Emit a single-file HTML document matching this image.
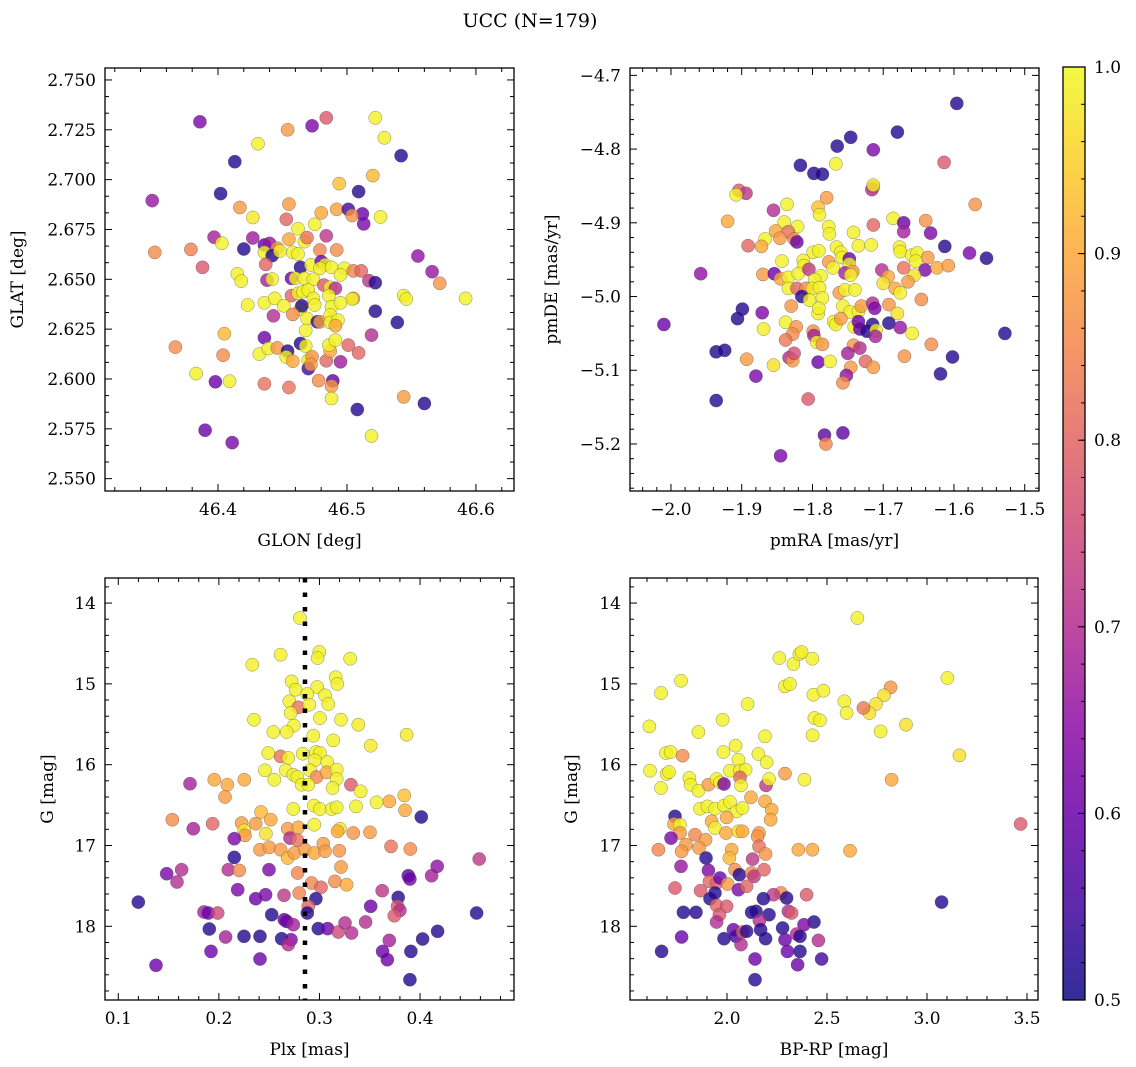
<!DOCTYPE html>
<html><head><meta charset="utf-8"><title>UCC (N=179)</title>
<style>
html,body{margin:0;padding:0;background:#fff;}
svg{display:block;font-family:"DejaVu Serif","Liberation Serif",serif;}
</style></head>
<body>
<svg id="fig" width="1136" height="1067" viewBox="0 0 1136 1067" xmlns="http://www.w3.org/2000/svg">
<defs>
<linearGradient id="plasma" x1="0" y1="1" x2="0" y2="0">
<stop offset="0" stop-color="#0d0887"/><stop offset="0.1" stop-color="#41049d"/><stop offset="0.2" stop-color="#6a00a8"/><stop offset="0.3" stop-color="#8f0da4"/><stop offset="0.4" stop-color="#b12a90"/><stop offset="0.5" stop-color="#cc4778"/><stop offset="0.6" stop-color="#e16462"/><stop offset="0.7" stop-color="#f2844b"/><stop offset="0.8" stop-color="#fca636"/><stop offset="0.9" stop-color="#fcce25"/><stop offset="1" stop-color="#f0f921"/>
</linearGradient>
</defs>
<text x="530" y="27" font-size="19" text-anchor="middle">UCC (N=179)</text>
<g id="root"></g>
</svg>
<script>
// ---- Panel 1: GLON vs GLAT ----
const glon=[46.386,46.473,46.484,46.454,46.522,46.529,46.431,46.413,46.542,46.520,46.494,46.509,46.402,46.349,46.417,46.455,46.427,46.480,46.492,46.501,46.512,46.504,46.513,46.526,46.453,46.462,46.475,46.397,46.403,46.427,46.351,46.379,46.388,46.420,46.436,46.440,46.446,46.436,46.442,46.448,46.455,46.467,46.469,46.484,46.458,46.462,46.479,46.492,46.437,46.464,46.472,46.480,46.483,46.479,46.488,46.498,46.505,46.511,46.495,46.555,46.566,46.572,46.592,46.415,46.418,46.438,46.442,46.457,46.460,46.467,46.474,46.482,46.487,46.491,46.517,46.522,46.457,46.462,46.466,46.470,46.474,46.486,46.505,46.504,46.544,46.546,46.423,46.436,46.444,46.451,46.464,46.465,46.475,46.488,46.495,46.443,46.458,46.469,46.477,46.479,46.487,46.487,46.493,46.491,46.468,46.522,46.539,46.519,46.436,46.405,46.367,46.404,46.432,46.439,46.446,46.464,46.468,46.454,46.453,46.458,46.470,46.473,46.470,46.472,46.484,46.487,46.486,46.491,46.495,46.501,46.509,46.383,46.398,46.409,46.436,46.455,46.478,46.489,46.488,46.488,46.544,46.560,46.508,46.390,46.411,46.519];
const glat=[2.729,2.727,2.731,2.725,2.731,2.721,2.718,2.709,2.712,2.702,2.698,2.694,2.693,2.6895,2.686,2.6877,2.681,2.6833,2.6851,2.6851,2.6828,2.682,2.6778,2.6813,2.6801,2.6754,2.6776,2.6711,2.6681,2.6707,2.6635,2.665,2.656,2.6652,2.6672,2.668,2.6656,2.6635,2.6619,2.6642,2.6701,2.6689,2.6709,2.6718,2.6635,2.6627,2.6647,2.6647,2.6575,2.656,2.6572,2.6589,2.6572,2.6555,2.656,2.6555,2.6542,2.6542,2.6522,2.6617,2.6538,2.648,2.6404,2.6527,2.6491,2.6496,2.6501,2.6505,2.6505,2.6505,2.650,2.6471,2.646,2.6455,2.6493,2.6483,2.6418,2.643,2.6438,2.6446,2.6404,2.6418,2.6404,2.6401,2.6418,2.6401,2.6371,2.6382,2.6404,2.6367,2.635,2.6367,2.6371,2.6362,2.6382,2.6317,2.6324,2.6304,2.6287,2.6287,2.6321,2.6284,2.6295,2.6267,2.6243,2.634,2.6284,2.622,2.6207,2.6227,2.616,2.6119,2.6125,2.6153,2.6156,2.6178,2.6165,2.614,2.611,2.6089,2.6094,2.6111,2.6052,2.6073,2.6091,2.614,2.617,2.6195,2.6086,2.617,2.6131,2.6027,2.5986,2.5989,2.5976,2.5957,2.5992,2.5991,2.5964,2.5902,2.591,2.5877,2.5847,2.5743,2.5681,2.5714];
const prob1=[0.62,0.62,0.78,0.88,0.99,0.99,0.99,0.52,0.52,0.92,0.93,0.52,0.52,0.66,0.88,0.88,0.98,0.9,0.89,0.55,0.6,0.87,0.62,0.99,0.8,0.99,0.99,0.68,0.99,0.67,0.86,0.84,0.78,0.52,0.58,0.66,0.86,0.99,0.52,0.99,0.9,0.99,0.82,0.72,0.99,0.99,0.85,0.86,0.8,0.52,0.99,0.6,0.99,0.99,0.99,0.99,0.85,0.8,0.99,0.65,0.66,0.87,0.99,0.99,0.99,0.68,0.99,0.6,0.99,0.99,0.99,0.78,0.99,0.7,0.72,0.52,0.8,0.99,0.99,0.99,0.99,0.99,0.88,0.99,0.99,0.99,0.99,0.99,0.99,0.99,0.99,0.52,0.99,0.99,0.99,0.7,0.86,0.99,0.52,0.88,0.99,0.99,0.99,0.9,0.99,0.52,0.52,0.7,0.6,0.92,0.86,0.86,0.99,0.99,0.87,0.52,0.99,0.52,0.99,0.9,0.99,0.87,0.55,0.88,0.8,0.9,0.99,0.99,0.67,0.8,0.8,0.99,0.6,0.99,0.82,0.82,0.86,0.58,0.88,0.99,0.88,0.52,0.52,0.6,0.62,0.99];

// ---- Panel 2: pmRA vs pmDE ----
const pmra=[-1.596,-1.680,-1.746,-1.765,-1.714,-1.614,-1.817,-1.767,-1.798,-1.786,-1.714,-1.716,-1.714,-1.904,-1.894,-1.908,-1.780,-1.570,-1.836,-1.855,-1.792,-1.790,-1.920,-1.840,-1.821,-1.852,-1.834,-1.777,-1.776,-1.714,-1.686,-1.671,-1.671,-1.640,-1.633,-1.742,-1.867,-1.846,-1.826,-1.822,-1.891,-1.872,-1.735,-1.717,-1.613,-1.578,-1.554,-1.766,-1.799,-1.791,-1.760,-1.677,-1.676,-1.660,-1.652,-1.637,-1.654,-1.843,-1.813,-1.812,-1.777,-1.758,-1.748,-1.748,-1.771,-1.958,-1.870,-1.854,-1.845,-1.834,-1.820,-1.805,-1.788,-1.797,-1.754,-1.743,-1.746,-1.702,-1.671,-1.641,-1.624,-1.608,-1.656,-1.693,-1.700,-1.665,-1.834,-1.822,-1.809,-1.800,-1.790,-1.815,-1.762,-1.754,-1.740,-1.683,-1.676,-1.646,-1.804,-1.786,-1.830,-1.757,-1.747,-1.735,-1.731,-1.715,-1.712,-1.692,-1.680,-1.899,-1.906,-1.871,-1.792,-1.791,-2.010,-1.869,-1.838,-1.823,-1.828,-1.838,-1.799,-1.798,-1.770,-1.767,-1.760,-1.741,-1.735,-1.733,-1.723,-1.715,-1.710,-1.711,-1.692,-1.676,-1.659,-1.794,-1.786,-1.742,-1.733,-1.750,-1.632,-1.936,-1.924,-1.893,-1.855,-1.833,-1.828,-1.826,-1.792,-1.775,-1.725,-1.714,-1.670,-1.602,-1.746,-1.752,-1.757,-1.880,-1.619,-1.528,-1.936,-1.806,-1.783,-1.781,-1.757,-1.845];
const pmde=[-4.738,-4.777,-4.784,-4.796,-4.801,-4.818,-4.822,-4.820,-4.833,-4.834,-4.851,-4.855,-4.849,-4.856,-4.860,-4.862,-4.866,-4.875,-4.875,-4.883,-4.879,-4.889,-4.898,-4.899,-4.905,-4.911,-4.912,-4.905,-4.915,-4.903,-4.894,-4.900,-4.912,-4.897,-4.914,-4.913,-4.922,-4.921,-4.922,-4.926,-4.931,-4.932,-4.931,-4.930,-4.932,-4.941,-4.948,-4.933,-4.940,-4.938,-4.940,-4.933,-4.939,-4.944,-4.941,-4.947,-4.952,-4.952,-4.951,-4.958,-4.953,-4.947,-4.949,-4.956,-4.961,-4.969,-4.970,-4.969,-4.976,-4.974,-4.969,-4.963,-4.972,-4.977,-4.968,-4.966,-4.971,-4.964,-4.961,-4.964,-4.961,-4.958,-4.971,-4.973,-4.982,-4.980,-4.989,-4.989,-4.989,-4.989,-4.988,-5.000,-4.995,-4.991,-4.991,-4.989,-4.995,-5.004,-5.005,-5.002,-5.013,-5.013,-5.021,-5.020,-5.013,-5.009,-5.016,-5.011,-5.023,-5.017,-5.030,-5.022,-5.023,-5.016,-5.038,-5.044,-5.035,-5.041,-5.051,-5.059,-5.047,-5.053,-5.034,-5.038,-5.030,-5.041,-5.034,-5.044,-5.047,-5.038,-5.046,-5.054,-5.036,-5.042,-5.050,-5.062,-5.065,-5.066,-5.070,-5.077,-5.065,-5.075,-5.073,-5.085,-5.093,-5.083,-5.087,-5.077,-5.089,-5.088,-5.088,-5.096,-5.081,-5.082,-5.096,-5.107,-5.117,-5.108,-5.105,-5.050,-5.141,-5.139,-5.188,-5.200,-5.185,-5.216];
const prob2=[0.52,0.52,0.52,0.52,0.62,0.78,0.52,0.99,0.52,0.52,0.85,0.7,0.99,0.78,0.72,0.99,0.88,0.87,0.99,0.7,0.93,0.99,0.9,0.99,0.99,0.9,0.82,0.99,0.99,0.8,0.99,0.6,0.68,0.87,0.62,0.99,0.99,0.88,0.85,0.6,0.8,0.9,0.99,0.99,0.52,0.62,0.52,0.99,0.99,0.99,0.99,0.99,0.99,0.99,0.99,0.88,0.99,0.99,0.99,0.99,0.88,0.99,0.6,0.99,0.99,0.65,0.88,0.6,0.9,0.99,0.99,0.72,0.99,0.99,0.68,0.87,0.99,0.7,0.82,0.62,0.9,0.88,0.97,0.9,0.97,0.88,0.99,0.8,0.86,0.99,0.99,0.52,0.88,0.99,0.99,0.9,0.99,0.86,0.99,0.99,0.87,0.99,0.99,0.99,0.88,0.7,0.62,0.87,0.97,0.52,0.52,0.62,0.99,0.99,0.6,0.99,0.99,0.87,0.86,0.83,0.86,0.68,0.99,0.99,0.88,0.99,0.6,0.6,0.52,0.52,0.99,0.68,0.52,0.66,0.99,0.99,0.87,0.87,0.7,0.68,0.86,0.52,0.52,0.88,0.97,0.7,0.88,0.76,0.6,0.99,0.8,0.88,0.87,0.52,0.88,0.65,0.86,0.62,0.52,0.52,0.52,0.78,0.58,0.85,0.58,0.62];

// ---- Panel 3: Plx vs G ----
const plx=[0.2806,0.2614,0.2998,0.2982,0.3306,0.2332,0.3161,0.3177,0.2723,0.2763,0.2978,0.2879,0.3055,0.3088,0.2700,0.2790,0.2899,0.2713,0.2349,0.3005,0.3214,0.3386,0.2746,0.2541,0.2674,0.2939,0.3137,0.3866,0.3509,0.2491,0.2614,0.2690,0.2833,0.2965,0.3005,0.2955,0.3078,0.2458,0.2551,0.2664,0.2740,0.2780,0.2906,0.2972,0.3071,0.3171,0.3171,0.3131,0.2823,0.2889,0.1713,0.1955,0.2084,0.2253,0.2061,0.3313,0.3409,0.3843,0.3850,0.3694,0.3568,0.3363,0.2740,0.2945,0.3005,0.3121,0.3171,0.4012,0.1537,0.1746,0.1938,0.2226,0.2366,0.2419,0.2515,0.2253,0.2259,0.2153,0.2468,0.2684,0.2790,0.2707,0.2783,0.2949,0.3204,0.3180,0.3336,0.3502,0.2409,0.2501,0.2614,0.2684,0.2750,0.2856,0.2949,0.3038,0.3055,0.3197,0.3711,0.3903,0.4588,0.2153,0.1481,0.1630,0.1584,0.2094,0.2203,0.2498,0.2783,0.2922,0.3015,0.3154,0.3214,0.3270,0.3883,0.3899,0.4115,0.4171,0.2187,0.2366,0.2465,0.2647,0.2799,0.2965,0.2889,0.2879,0.3624,0.3783,0.3777,0.3800,0.3744,0.3509,0.1199,0.1852,0.1895,0.1988,0.2525,0.2650,0.2674,0.2740,0.1905,0.2067,0.2250,0.2409,0.2624,0.2717,0.2690,0.2988,0.3081,0.3187,0.3254,0.3320,0.3459,0.1922,0.3694,0.3628,0.3674,0.3909,0.4025,0.4174,0.4562,0.1375,0.2409,0.3899];
const gmag3=[14.185,14.639,14.606,14.680,14.688,14.763,14.919,15.002,14.969,15.072,15.039,15.126,15.142,15.249,15.216,15.290,15.258,15.361,15.443,15.423,15.443,15.505,15.517,15.596,15.596,15.641,15.699,15.629,15.765,15.856,15.897,15.918,15.864,15.843,15.856,15.946,15.967,16.070,16.186,16.070,16.124,16.153,16.070,16.153,16.095,16.062,16.177,16.289,16.248,16.248,16.235,16.186,16.248,16.186,16.400,16.248,16.330,16.380,16.565,16.454,16.466,16.516,16.549,16.507,16.549,16.549,16.528,16.648,16.681,16.792,16.730,16.722,16.730,16.586,16.681,16.813,16.875,16.916,16.854,16.792,16.776,16.908,16.936,16.743,16.792,16.825,16.846,16.837,17.052,17.023,17.052,17.155,17.093,17.052,17.093,16.978,17.072,17.064,17.011,17.044,17.167,17.147,17.349,17.299,17.452,17.299,17.308,17.299,17.341,17.464,17.518,17.444,17.266,17.485,17.374,17.415,17.374,17.258,17.547,17.658,17.609,17.617,17.588,17.658,17.753,17.836,17.559,17.642,17.753,17.803,17.869,17.753,17.700,17.823,17.836,17.836,17.856,17.918,17.939,17.980,18.034,18.133,18.124,18.124,18.153,18.166,18.227,18.029,18.029,18.071,17.959,18.083,17.947,18.310,18.174,18.310,18.413,18.310,18.157,18.062,17.836,18.483,18.405,18.661];
const prob3=[0.99,0.99,0.99,0.99,0.99,0.99,0.99,0.99,0.99,0.99,0.99,0.99,0.99,0.99,0.99,0.82,0.99,0.99,0.99,0.99,0.99,0.98,0.99,0.99,0.99,0.99,0.99,0.98,0.98,0.99,0.82,0.99,0.99,0.99,0.99,0.99,0.99,0.99,0.99,0.99,0.99,0.99,0.99,0.85,0.9,0.99,0.99,0.99,0.99,0.99,0.68,0.9,0.9,0.9,0.88,0.78,0.99,0.93,0.9,0.9,0.99,0.99,0.99,0.99,0.99,0.99,0.99,0.52,0.86,0.68,0.8,0.88,0.88,0.92,0.9,0.98,0.88,0.62,0.97,0.88,0.9,0.7,0.82,0.99,0.98,0.9,0.87,0.88,0.88,0.88,0.88,0.92,0.88,0.88,0.9,0.88,0.88,0.87,0.82,0.86,0.72,0.52,0.62,0.7,0.7,0.7,0.86,0.62,0.85,0.85,0.8,0.86,0.88,0.9,0.58,0.6,0.68,0.65,0.62,0.6,0.62,0.72,0.85,0.52,0.8,0.52,0.72,0.52,0.78,0.7,0.78,0.6,0.52,0.68,0.6,0.75,0.52,0.6,0.6,0.68,0.52,0.68,0.52,0.52,0.52,0.62,0.7,0.52,0.6,0.75,0.7,0.7,0.7,0.6,0.68,0.6,0.6,0.52,0.52,0.52,0.52,0.6,0.6,0.52];

// ---- Panel 4: BP-RP vs G ----
const bprp=[2.652,2.262,2.332,2.362,2.373,2.427,3.102,2.290,2.315,2.432,2.482,2.818,2.785,2.745,2.712,2.682,2.587,2.598,2.437,2.465,2.428,2.768,2.895,3.162,1.612,1.670,1.770,1.857,1.978,2.103,2.190,1.695,1.718,1.778,1.615,1.698,1.710,1.670,1.812,1.818,1.857,1.907,1.948,1.965,1.985,1.982,2.043,2.015,2.057,2.065,2.093,2.065,2.070,2.157,2.198,2.195,2.210,2.290,2.387,2.823,1.865,1.902,1.940,1.985,2.015,2.048,2.077,2.120,2.190,2.223,2.218,1.998,1.923,1.940,1.995,2.057,2.077,2.160,2.153,1.740,1.735,1.765,1.765,1.720,1.840,1.893,1.795,1.773,1.860,1.657,2.023,2.012,2.160,2.193,2.357,2.427,2.615,3.468,1.895,1.770,1.907,2.040,2.062,2.123,2.135,2.185,2.128,1.740,1.868,1.912,1.948,1.965,2.003,2.057,2.098,2.270,2.232,2.298,2.398,2.182,1.915,1.940,1.948,1.998,1.962,1.948,1.782,1.845,2.123,2.145,2.210,2.162,2.307,2.323,2.435,2.385,2.168,2.278,2.193,2.032,2.045,2.078,2.098,1.985,2.070,2.290,2.302,2.348,2.365,2.365,2.457,2.473,2.353,2.140,2.140,1.673,1.773,3.073];
const gmag4=[14.185,14.680,14.754,14.631,14.606,14.688,14.928,15.031,15.002,15.134,15.084,15.043,15.142,15.249,15.361,15.299,15.216,15.361,15.423,15.451,15.637,15.588,15.505,15.885,15.526,15.113,14.961,15.596,15.443,15.249,15.649,15.856,15.843,15.889,16.074,16.116,16.091,16.289,16.165,16.248,16.322,16.248,16.177,16.219,16.239,15.843,15.765,16.074,15.938,16.074,16.062,16.157,16.256,15.868,15.971,16.256,16.177,16.111,16.186,16.186,16.545,16.516,16.545,16.507,16.462,16.578,16.536,16.404,16.454,16.557,16.681,16.652,16.701,16.784,16.846,16.825,16.825,16.846,16.887,16.639,16.734,16.743,16.846,16.908,16.866,16.928,16.990,17.073,17.031,17.052,17.052,17.155,17.011,17.105,17.052,17.052,17.064,16.734,17.155,17.258,17.308,17.299,17.361,17.341,17.382,17.299,17.168,17.526,17.559,17.444,17.464,17.402,17.477,17.547,17.505,17.588,17.609,17.650,17.609,17.658,17.658,17.588,17.741,17.753,17.856,17.947,17.827,17.827,17.827,17.815,17.856,17.931,17.815,17.836,17.947,17.980,18.042,18.021,18.153,18.042,18.124,18.071,18.062,18.153,18.227,18.166,18.310,18.096,18.124,18.310,18.174,18.405,18.475,18.405,18.661,18.310,18.133,17.700];
const prob4=[0.99,0.99,0.99,0.99,0.99,0.99,0.99,0.99,0.99,0.99,0.99,0.87,0.97,0.97,0.97,0.83,0.99,0.99,0.99,0.99,0.99,0.99,0.97,0.97,0.99,0.99,0.99,0.99,0.99,0.99,0.99,0.99,0.99,0.86,0.99,0.99,0.99,0.99,0.99,0.99,0.99,0.88,0.99,0.99,0.62,0.99,0.99,0.99,0.99,0.99,0.99,0.8,0.99,0.99,0.99,0.72,0.99,0.88,0.99,0.9,0.99,0.99,0.99,0.99,0.99,0.99,0.99,0.9,0.9,0.9,0.9,0.9,0.9,0.99,0.9,0.97,0.9,0.88,0.87,0.52,0.9,0.99,0.88,0.62,0.85,0.88,0.88,0.88,0.88,0.85,0.9,0.92,0.82,0.87,0.9,0.9,0.9,0.78,0.52,0.66,0.62,0.86,0.52,0.85,0.72,0.8,0.72,0.78,0.78,0.8,0.8,0.6,0.88,0.62,0.8,0.85,0.72,0.52,0.78,0.52,0.52,0.52,0.8,0.78,0.78,0.7,0.52,0.52,0.52,0.52,0.52,0.7,0.7,0.78,0.52,0.62,0.52,0.52,0.52,0.6,0.56,0.78,0.52,0.52,0.7,0.6,0.6,0.7,0.52,0.52,0.7,0.55,0.6,0.6,0.52,0.52,0.6,0.52];

const plxLine=[0.2856];
const cbTicks=[0.5,0.6,0.7,0.8,0.9,1.0];

const NS="http://www.w3.org/2000/svg";
const root=document.getElementById('root');
const stops=[[13,8,135],[65,4,157],[106,0,168],[143,13,164],[177,42,144],[204,71,120],[225,100,98],[242,132,75],[252,166,54],[252,206,37],[240,249,33]];
function plasma(p){let t=Math.max(0,Math.min(1,(p-0.5)/0.5))*10;let i=Math.min(9,Math.floor(t));let f=t-i;const a=stops[i],b=stops[i+1];return 'rgb('+a.map((v,k)=>Math.round(v+(b[k]-v)*f)).join(',')+')';}
function el(tag,attrs,parent){const e=document.createElementNS(NS,tag);for(const k in attrs)e.setAttribute(k,attrs[k]);(parent||root).appendChild(e);return e;}
function fmt(v,d){return (v<0?'\u2212':'')+Math.abs(v).toFixed(d);}

function panel(cfg){
  const g=el('g',{});
  
  
  const sx=v=>cfg.x0+(v-cfg.xmin)/(cfg.xmax-cfg.xmin)*(cfg.x1-cfg.x0);
  const sy=cfg.invert?(v=>cfg.y0+(v-cfg.ymin)/(cfg.ymax-cfg.ymin)*(cfg.y1-cfg.y0)):(v=>cfg.y1-(v-cfg.ymin)/(cfg.ymax-cfg.ymin)*(cfg.y1-cfg.y0));
  const cid='clip-'+cfg.name;
  const cp=el('clipPath',{id:cid},g);el('rect',{x:cfg.x0,y:cfg.y0,width:cfg.x1-cfg.x0,height:cfg.y1-cfg.y0},cp);
  const pts=el('g',{'clip-path':'url(#'+cid+')'},g);
  
  
  for(let i=0;i<cfg.xs.length;i++){
    const c=el('circle',{cx:sx(cfg.xs[i]).toFixed(1),cy:sy(cfg.ys[i]).toFixed(1),r:6.6,fill:plasma(cfg.ps[i]),'fill-opacity':0.8,stroke:'#444','stroke-width':0.5,'stroke-opacity':0.6},pts);
    
    
  }
  if(cfg.vline){for(const v of cfg.vline){const l=el('line',{x1:sx(v),x2:sx(v),y1:cfg.y0,y2:cfg.y1,stroke:'#000','stroke-width':4.5,'stroke-dasharray':'4.5 10'},g);
    
    }}
  const tk=el('g',{stroke:'#000','stroke-width':1},g);
  const xr=cfg.xmaj[1]-cfg.xmaj[0], yr=cfg.ymaj[1]-cfg.ymaj[0];
  const lo=Math.floor((cfg.xmin-cfg.xmaj[0])/xr)-1;
  for(let k=lo*cfg.xmin_n;k<200;k++){const v=cfg.xmaj[0]+k*xr/cfg.xmin_n;if(v>cfg.xmax+1e-9)break;if(v<cfg.xmin-1e-9)continue;const major=Math.abs(k%cfg.xmin_n)===0;const L=major?7:4;const X=sx(v);
    el('line',{x1:X,x2:X,y1:cfg.y1,y2:cfg.y1-L},tk);el('line',{x1:X,x2:X,y1:cfg.y0,y2:cfg.y0+L},tk);}
  const lo2=Math.floor((cfg.ymin-cfg.ymaj[0])/yr)-1;
  for(let k=lo2*cfg.ymin_n;k<400;k++){const v=cfg.ymaj[0]+k*yr/cfg.ymin_n;if(v>cfg.ymax+1e-9)break;if(v<cfg.ymin-1e-9)continue;const major=Math.abs(k%cfg.ymin_n)===0;const L=major?7:4;const Y=sy(v);
    el('line',{x1:cfg.x0,x2:cfg.x0+L,y1:Y,y2:Y},tk);el('line',{x1:cfg.x1,x2:cfg.x1-L,y1:Y,y2:Y},tk);}
  const fr=el('rect',{x:cfg.x0,y:cfg.y0,width:cfg.x1-cfg.x0,height:cfg.y1-cfg.y0,fill:'none',stroke:'#000','stroke-width':1.3},g);
  
  
  for(const v of cfg.xlabels){const t=el('text',{x:sx(v),y:cfg.y1+24,'font-size':17,'text-anchor':'middle'},g);t.textContent=fmt(v,cfg.xd);
    
    }
  for(const v of cfg.ylabels){const t=el('text',{x:cfg.x0-9,y:sy(v)+6,'font-size':17,'text-anchor':'end'},g);t.textContent=fmt(v,cfg.yd);
    
    }
  const xt=el('text',{x:(cfg.x0+cfg.x1)/2,y:cfg.y1+55,'font-size':17,'text-anchor':'middle'},g);xt.textContent=cfg.xtitle;
  
  
  const yc=(cfg.y0+cfg.y1)/2;
  const yt=el('text',{x:cfg.ytx,y:yc,'font-size':17,'text-anchor':'middle',transform:'rotate(-90 '+cfg.ytx+' '+yc+')'},g);yt.textContent=cfg.ytitle;
  
  
}

panel({name:'glon-glat-panel',x0:105,x1:514,y0:68,y1:491,xmin:46.3124,xmax:46.6295,ymin:2.5438,ymax:2.756,xs:glon,ys:glat,ps:prob1,
  xmaj:[46.4,46.5],xmin_n:5,ymaj:[2.55,2.575],ymin_n:3,xlabels:[46.4,46.5,46.6],xd:1,ylabels:[2.55,2.575,2.6,2.625,2.65,2.675,2.7,2.725,2.75],yd:3,
  xtitle:'GLON [deg]',ytitle:'GLAT [deg]',ytx:23});
panel({name:'pm-panel',x0:630,x1:1039,y0:68,y1:491,xmin:-2.0579,xmax:-1.4798,ymin:-5.2638,ymax:-4.690,xs:pmra,ys:pmde,ps:prob2,
  xmaj:[-2.0,-1.9],xmin_n:5,ymaj:[-5.2,-5.1],ymin_n:5,xlabels:[-2.0,-1.9,-1.8,-1.7,-1.6,-1.5],xd:1,ylabels:[-5.2,-5.1,-5.0,-4.9,-4.8,-4.7],yd:1,
  xtitle:'pmRA [mas/yr]',ytitle:'pmDE [mas/yr]',ytx:557});
panel({name:'plx-g-panel',x0:105,x1:514,y0:578,y1:1000,xmin:0.0868,xmax:0.4934,ymin:13.69,ymax:18.912,invert:true,xs:plx,ys:gmag3,ps:prob3,vline:plxLine,
  xmaj:[0.1,0.2],xmin_n:5,ymaj:[14,15],ymin_n:5,xlabels:[0.1,0.2,0.3,0.4],xd:1,ylabels:[14,15,16,17,18],yd:0,
  xtitle:'Plx [mas]',ytitle:'G [mag]',ytx:53});
panel({name:'cmd-panel',x0:630,x1:1038,y0:578,y1:1000,xmin:1.515,xmax:3.555,ymin:13.69,ymax:18.912,invert:true,xs:bprp,ys:gmag4,ps:prob4,
  xmaj:[2.0,2.5],xmin_n:5,ymaj:[14,15],ymin_n:5,xlabels:[2.0,2.5,3.0,3.5],xd:1,ylabels:[14,15,16,17,18],yd:0,
  xtitle:'BP-RP [mag]',ytitle:'G [mag]',ytx:577});

const cb=el('g',{});


const cbY0=67,cbY1=1000,cbX0=1063,cbX1=1085;
const cs=v=>cbY1-(v-0.5)/0.5*(cbY1-cbY0);
el('rect',{x:cbX0,y:cbY0,width:cbX1-cbX0,height:cbY1-cbY0,fill:'url(#plasma)','fill-opacity':0.85},cb);
for(let k=0;k<=25;k++){const v=0.5+k*0.02;const Y=cs(v);el('line',{x1:cbX1,x2:cbX1-4,y1:Y,y2:Y,stroke:'#000','stroke-width':1},cb);}
el('rect',{x:cbX0,y:cbY0,width:cbX1-cbX0,height:cbY1-cbY0,fill:'none',stroke:'#000','stroke-width':1.3},cb);
for(const v of cbTicks){const Y=cs(v);el('line',{x1:cbX1,x2:cbX1-7,y1:Y,y2:Y,stroke:'#000','stroke-width':1},cb);
  const t=el('text',{x:1094,y:Y+6,'font-size':17},cb);t.textContent=v.toFixed(1);
  
  }
</script>
</body></html>
